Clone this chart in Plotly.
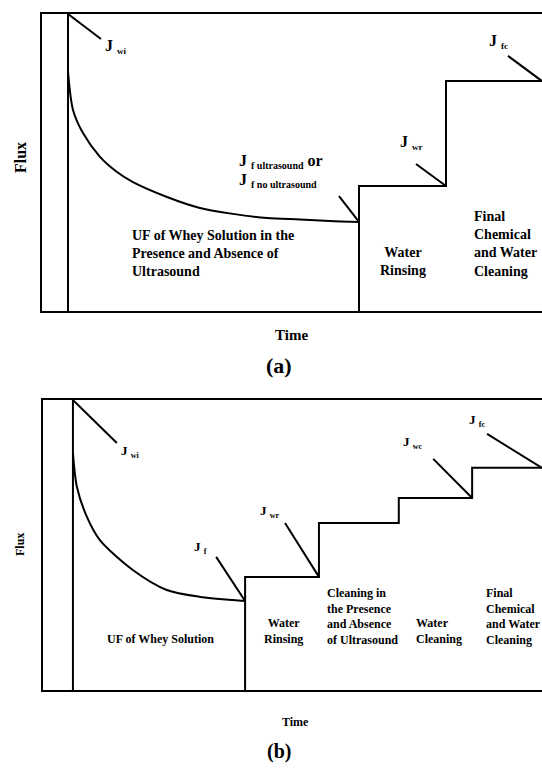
import plotly.graph_objects as go

# ---------------- Panel (a): UF with / without ultrasound ----------------
a_curve_time = [5.2, 6.2, 8.2, 11.6, 15.0, 18.2, 25.0, 31.6, 38.2, 45.0, 51.6, 57.6, 63.4]
a_curve_flux = [80.5, 67.7, 59.9, 51.9, 46.8, 43.4, 38.4, 34.7, 32.7, 31.3, 30.8, 30.3, 30.0]
a_start_time = 5.2          # start of whey UF
a_jwi = 100.0               # initial water flux
a_stage_time = [63.4, 80.8]  # water rinsing, final chemical + water cleaning
a_stage_flux = [42.1, 77.4]  # J_wr, J_fc
a_end_time = 100.0

# ---------------- Panel (b): cleaning with / without ultrasound ----------------
b_curve_time = [6.0, 6.8, 8.8, 11.4, 18.0, 24.8, 31.5, 38.1, 40.5]
b_curve_flux = [81.7, 70.0, 59.7, 51.7, 41.4, 34.5, 32.1, 31.0, 30.7]
b_start_time = 6.0
b_jwi = 100.0
b_stage_time = [40.5, 55.3, 71.3, 86.0]   # rinsing, US cleaning, water cleaning, final cleaning
b_stage_flux = [39.0, 57.6, 66.2, 76.6]   # J_wr, after US cleaning, J_wc, J_fc
b_end_time = 100.0

LINE = dict(color="black", width=2)
FONT = "Times New Roman, Liberation Serif, Tinos, DejaVu Serif"


def step_path(stage_time, stage_flux, end_time):
    """Staircase: riser from the time axis, then one plateau per stage."""
    xs, ys = [stage_time[0]], [0.0]
    for i, (t, f) in enumerate(zip(stage_time, stage_flux)):
        t_next = stage_time[i + 1] if i + 1 < len(stage_time) else end_time
        xs += [t, t_next]
        ys += [f, f]
    return xs, ys


def add_panel(fig, xa, ya, t0, jwi, ct, cf, st, sf, tend):
    # initial water flux marker line
    fig.add_trace(go.Scatter(x=[t0, t0], y=[0, jwi], mode="lines", line=LINE,
                             xaxis=xa, yaxis=ya, hoverinfo="skip"))
    # flux decline during UF
    fig.add_trace(go.Scatter(x=ct, y=cf, mode="lines",
                             line=dict(LINE, shape="spline", smoothing=0.8),
                             xaxis=xa, yaxis=ya, hoverinfo="skip"))
    px, py = step_path(st, sf, tend)
    fig.add_trace(go.Scatter(x=px, y=py, mode="lines", line=LINE,
                             xaxis=xa, yaxis=ya, hoverinfo="skip"))


def add_leader(fig, xa, ya, x, y, dx, dy):
    fig.add_trace(go.Scatter(x=[x + dx, x], y=[y + dy, y], mode="lines", line=LINE,
                             xaxis=xa, yaxis=ya, hoverinfo="skip"))


fig = go.Figure()

# panel (a)
add_panel(fig, "x", "y", a_start_time, a_jwi, a_curve_time, a_curve_flux,
          a_stage_time, a_stage_flux, a_end_time)
add_leader(fig, "x", "y", a_start_time, a_jwi, 6.6, -8.4)
add_leader(fig, "x", "y", a_curve_time[-1], a_curve_flux[-1], -4.0, 8.7)
add_leader(fig, "x", "y", a_stage_time[1], a_stage_flux[0], -6.0, 7.4)
add_leader(fig, "x", "y", a_end_time, a_stage_flux[1], -6.8, 8.5)

# panel (b)
add_panel(fig, "x2", "y2", b_start_time, b_jwi, b_curve_time, b_curve_flux,
          b_stage_time, b_stage_flux, b_end_time)
add_leader(fig, "x2", "y2", b_start_time, b_jwi, 8.8, -14.8)
add_leader(fig, "x2", "y2", b_curve_time[-1], b_curve_flux[-1], -5.8, 15.2)
add_leader(fig, "x2", "y2", b_stage_time[1], b_stage_flux[0], -6.8, 18.6)
add_leader(fig, "x2", "y2", b_stage_time[3], b_stage_flux[2], -7.8, 13.5)
add_leader(fig, "x2", "y2", b_end_time, b_stage_flux[3], -11.0, 11.7)


def jlabel(sub, size_sub, tail=""):
    return f"J <sub><span style='font-size:{size_sub}px'>{sub}</span></sub>{tail}"


annotations = []


def note(text, x, y, xref, yref, size, xanchor="left", yanchor="middle", align="left", angle=0):
    annotations.append(dict(text=text, x=x, y=y, xref=xref, yref=yref, showarrow=False,
                            font=dict(family=FONT, size=size, color="black", weight="bold"),
                            xanchor=xanchor, yanchor=yanchor, align=align, textangle=angle))


# labels, panel (a)
note(jlabel("wi", 9), 12.2, 88.9, "x", "y", 16)
note(jlabel("f ultrasound", 10, " or"), 39.0, 50.2, "x", "y", 16)
note(jlabel("f no ultrasound", 10), 39.0, 43.8, "x", "y", 16)
note(jlabel("wr", 9), 71.2, 56.6, "x", "y", 16)
note(jlabel("fc", 9), 89.0, 90.9, "x", "y", 16)
note("UF of Whey Solution in the<br>Presence and Absence of<br>Ultrasound", 17.6, 19.5, "x", "y", 14)
note("Water<br>Rinsing", 72.2, 16.8, "x", "y", 14, xanchor="center", align="center")
note("Final<br>Chemical<br>and Water<br>Cleaning", 86.0, 22.4, "x", "y", 14)

# labels, panel (b)
note(jlabel("wi", 8), 15.2, 82.1, "x2", "y2", 13)
note(jlabel("f", 8), 29.9, 49.0, "x2", "y2", 13)
note(jlabel("wr", 8), 43.1, 61.7, "x2", "y2", 13)
note(jlabel("wc", 8), 71.7, 85.5, "x2", "y2", 13)
note(jlabel("fc", 8), 85.0, 92.8, "x2", "y2", 13)
note("UF of Whey Solution", 23.6, 17.6, "x2", "y2", 12, xanchor="center", align="center")
note("Water<br>Rinsing", 48.1, 20.2, "x2", "y2", 12, xanchor="center", align="center")
note("Cleaning in<br>the Presence<br>and Absence<br>of Ultrasound", 56.5, 25.2, "x2", "y2", 12)
note("Water<br>Cleaning", 74.3, 20.2, "x2", "y2", 12)
note("Final<br>Chemical<br>and Water<br>Cleaning", 88.4, 25.2, "x2", "y2", 12)

# axis titles and panel tags
note("Flux", 0.0369, 0.7958, "paper", "paper", 16, xanchor="center", angle=-90)
note("Time", 0.5387, 0.5644, "paper", "paper", 15, xanchor="center")
note("(a)", 0.5148, 0.5241, "paper", "paper", 22, xanchor="center")
note("Flux", 0.0369, 0.2926, "paper", "paper", 12, xanchor="center", angle=-90)
note("Time", 0.5443, 0.0611, "paper", "paper", 12, xanchor="center")
note("(b)", 0.5148, 0.0234, "paper", "paper", 20, xanchor="center")

axis_common = dict(range=[0, 100], showgrid=False, zeroline=False, showticklabels=False,
                   ticks="", showline=True, linecolor="black", linewidth=2, fixedrange=True)

fig.update_layout(
    width=542, height=769,
    margin=dict(l=0, r=0, t=0, b=0),
    paper_bgcolor="white", plot_bgcolor="white",
    showlegend=False,
    font=dict(family=FONT, color="black"),
    xaxis=dict(axis_common, domain=[42 / 542, 1], anchor="y", mirror=True),
    yaxis=dict(axis_common, domain=[1 - 311 / 769, 1 - 14 / 769], anchor="x"),
    xaxis2=dict(axis_common, domain=[43 / 542, 1], anchor="y2", mirror=True),
    yaxis2=dict(axis_common, domain=[1 - 690 / 769, 1 - 400 / 769], anchor="x2"),
    annotations=annotations,
)

fig.write_html("out.html")
